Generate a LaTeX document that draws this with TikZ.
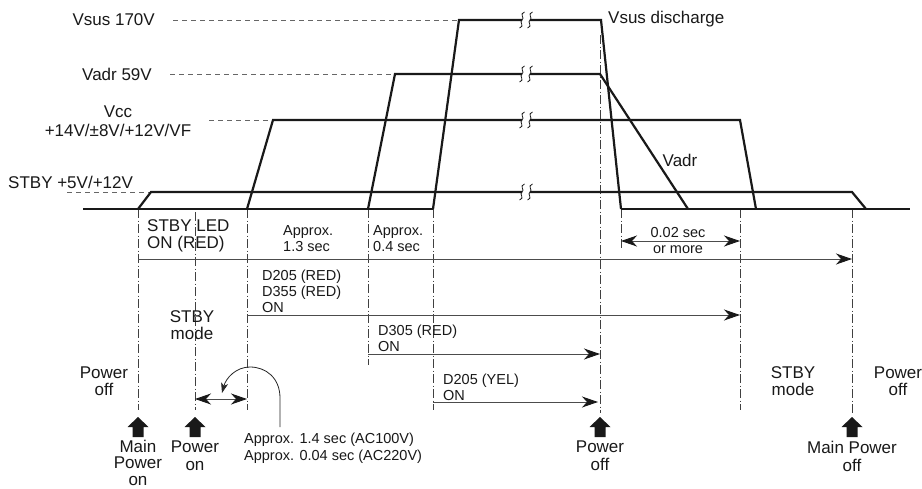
\documentclass[tikz,border=0pt]{standalone}
\usepackage{fontspec}
\setmainfont{Liberation Sans}
\usetikzlibrary{arrows.meta}
\begin{document}
\begin{tikzpicture}[x=1pt,y=-1pt,
 wave/.style={line width=2.2pt, line join=miter, black!90},
 lvl/.style={line width=0.9pt, black!60, dash pattern=on 5pt off 4pt},
 vline/.style={line width=0.9pt, black!75, dash pattern=on 9pt off 2.5pt on 1pt off 2.5pt},
 hline/.style={line width=0.9pt, black!70},
 ahead/.tip={Stealth[length=16pt,width=11pt,inset=5pt,fill=black!90,color=black!90]},
 tip/.style={-ahead},
 dtip/.style={ahead-ahead},
 big/.style={font=\fontsize{17}{17.5}\selectfont, inner sep=0pt, text=black!90},
 small/.style={font=\fontsize{14.5}{16}\selectfont, inner sep=0pt, text=black!90},
 brk/.pic={\draw[line width=0.8pt, black!90] (2.5,-8) .. controls (-3.5,-6) and (3.5,-2) .. (0,0) .. controls (-3.5,2) and (3.5,6) .. (-2.5,8);},
 blockup/.pic={\fill[black!90] (0,0) -- (10.5,10) -- (5.5,10) -- (5.5,20) -- (-5.5,20) -- (-5.5,10) -- (-10.5,10) -- cycle;}
]
\useasboundingbox[fill=white] (0,0) rectangle (922,488);

% level dashed lines
\draw[lvl] (173,20) -- (459,20);
\draw[lvl] (170,74) -- (395,74);
\draw[lvl] (209,120) -- (273,120);
\draw[lvl] (67,192) -- (151,192);

% vertical dash-dot lines
\draw[vline] (138,209) -- (138,410);
\draw[vline] (195,212) -- (195,410);
\draw[vline] (247,209) -- (247,410);
\draw[vline] (368,209) -- (368,365);
\draw[vline] (433,209) -- (433,410);
\draw[vline] (600,35) -- (600,413);
\draw[vline] (621,209) -- (621,248);
\draw[vline] (740,209) -- (740,410);
\draw[vline] (852,209) -- (852,413);

% baseline
\draw[wave] (83,209) -- (433,209);
\draw[wave] (621,209) -- (910,209);

% STBY
\draw[wave] (138,209) -- (151,192) -- (522,192);
\draw[wave] (530,192) -- (852,192) -- (866,209);
% Vcc
\draw[wave] (247,209) -- (273,120) -- (522,120);
\draw[wave] (530,120) -- (740,120) -- (756,209);
% Vadr
\draw[wave] (368,209) -- (395,74) -- (522,74);
\draw[wave] (530,74) -- (600,74) -- (688,209);
% Vsus
\draw[wave] (433,209) -- (459,20) -- (522,20);
\draw[wave] (530,20) -- (601,20) -- (621,209);

\foreach \yy in {20,74,120,192} {
  \pic at (522,\yy) {brk};
  \pic at (530,\yy) {brk};
}

% horizontal timing arrows
\coordinate (a1s) at (138,259); \coordinate (a1e) at (852,259);
\coordinate (a2s) at (247,315); \coordinate (a2e) at (740,315);
\coordinate (a3s) at (368,354); \coordinate (a3e) at (600,354);
\coordinate (a4s) at (433,402); \coordinate (a4e) at (598,402);
\coordinate (d1s) at (195,399); \coordinate (d1e) at (247,399);
\coordinate (d2s) at (621,241); \coordinate (d2e) at (740,241);
\draw[hline,tip] (a1s) -- (a1e);
\draw[hline,tip] (a2s) -- (a2e);
\draw[hline,tip] (a3s) -- (a3e);
\draw[hline,tip] (a4s) -- (a4e);
\draw[hline,dtip] (d1s) -- (d1e);
\draw[hline,dtip] (d2s) -- (d2e);

% curved arrow
\coordinate (cs) at (280,427);
\coordinate (ce) at (222,393);
\draw[line width=0.8pt, black!85, -{Stealth[length=10pt,width=7pt,inset=2.5pt]}]
  (cs) -- (280,398) .. controls (280,378) and (266,367) .. (250,367)
  .. controls (236,367) and (226,378) .. (ce);

% block arrows
\pic at (138,417) {blockup};
\pic at (195,417) {blockup};
\pic at (600,417) {blockup};
\pic at (852,417) {blockup};

% labels top
\node[big, anchor=east] (lvsus) at (155,20) {Vsus 170V};
\node[big, anchor=east] (lvadr) at (152,74) {Vadr 59V};
\node[big, align=center, font=\fontsize{17}{19.5}\selectfont] (lvcc) at (118,121) {Vcc\\+14V/±8V/+12V/VF};
\node[big, anchor=west] (lstby) at (8,182) {STBY +5V/+12V};
\node[big, anchor=west] (ldis) at (608,19) {Vsus discharge};
\node[big] (lvadr2) at (680,160) {Vadr};

% labels middle
\node[big, align=left, anchor=west] (lled) at (147,236) {STBY LED\\ON (RED)};
\node[small, align=left, anchor=west] (l13) at (283,239) {Approx.\\1.3 sec};
\node[small, align=left, anchor=west] (l04) at (373,239) {Approx.\\0.4 sec};
\node[small, align=center] (l002) at (678,241) {0.02 sec\\or more};
\node[small, align=left, anchor=west] (ld205) at (262,291) {D205 (RED)\\D355 (RED)\\ON};
\node[small, align=left, anchor=west] (ld305) at (378,338) {D305 (RED)\\ON};
\node[small, align=left, anchor=west] (ld205y) at (443,387) {D205 (YEL)\\ON};
\node[big, align=center] (lsm1) at (192,325) {STBY\\mode};
\node[big, align=center] (lpo1) at (104,381) {Power\\off};
\node[big, align=center] (lsm2) at (793,381) {STBY\\mode};
\node[big, align=center] (lpo2) at (898,381) {Power\\off};

% labels bottom
\node[big, align=center, anchor=north, font=\fontsize{17}{16.3}\selectfont] (lmpon) at (138,440) {Main\\Power\\on};
\node[big, align=center, anchor=north] (lpon) at (195,441) {Power\\on};
\node[big, align=center, anchor=north] (lpoff) at (600,441) {Power\\off};
\node[big, align=center, anchor=north] (lmpoff) at (852,441) {Main Power\\off};
\node[small, align=left, anchor=west, font=\fontsize{14.5}{17.5}\selectfont] (lac) at (244,448) {Approx. 1.4 sec (AC100V)\\Approx. 0.04 sec (AC220V)};
\end{tikzpicture}
\end{document}
